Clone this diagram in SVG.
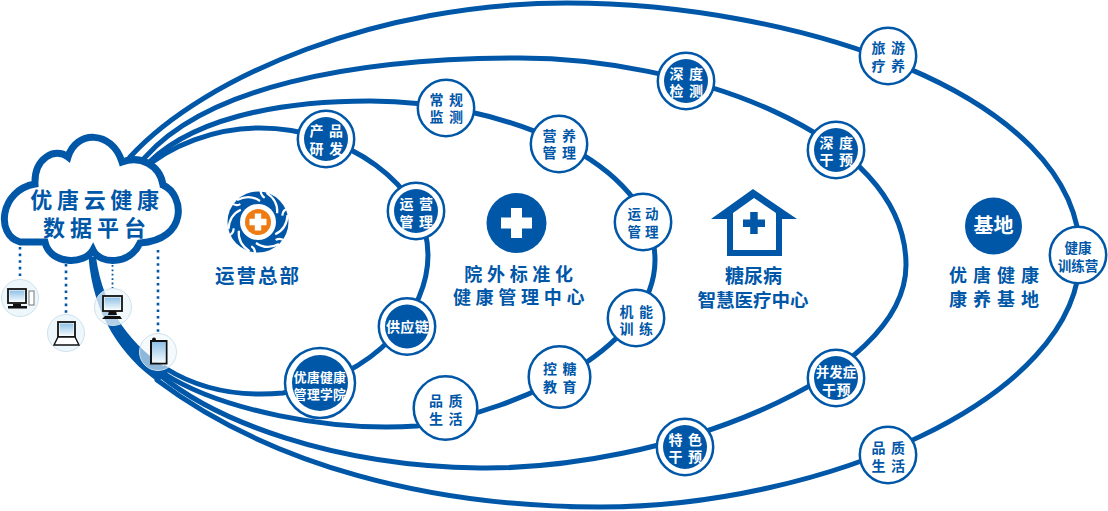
<svg xmlns="http://www.w3.org/2000/svg" xmlns:xlink="http://www.w3.org/1999/xlink" width="1108" height="511" viewBox="0 0 1108 511">
<style>
text{font-family:"Liberation Sans","Noto Sans CJK SC",sans-serif;font-weight:700;text-anchor:middle;dominant-baseline:central}
.b{fill:#0057a8}.w{fill:#fff}
.c{fill:none;stroke:#0057a8;stroke-width:5;stroke-linecap:round}
.d{fill:none;stroke:#0057a8;stroke-width:2.6;stroke-dasharray:2.6 4}
.d2{fill:none;stroke:#0057a8;stroke-width:1.8;stroke-dasharray:1.8 2.6}
.rw{fill:#fff;stroke:#0057a8;stroke-width:2.5}
.n{font-size:14px;letter-spacing:5.5px}
.m{font-size:18px;letter-spacing:4.7px}
.dv{fill:#eef7fc;stroke:#cfe2ec;stroke-width:1}
.k{fill:#fff;stroke:#111;stroke-width:1.8}
.s{fill:url(#scr)}
.sl{fill:none;stroke:#fff;stroke-width:2.2}
</style>
<defs>
<linearGradient id="scr" x1="0" y1="0" x2="0" y2="1"><stop offset="0" stop-color="#8fc0e6"/><stop offset="1" stop-color="#f2f9fd"/></linearGradient>
<path id="slit" d="M-21,-22 C-13,-26 -5,-26 2,-21"/>
<path id="notch" d="M-8,-32 C-8,-28 -6,-26 -2,-25"/>
</defs>
<g id="connectors">
<path class="c" d="M130,157 C205,75 380,3 567,3 C790,3 1080,92 1080,255 C1080,400 820,507 600,507 C430,507 270,465 157,380"/>
<path class="c" d="M135,170 C195,85 360,58 520,58 C680,58 906,130 906,265 C906,380 660,470 480,468 C330,466 215,420 160,375"/>
<path class="c" d="M140,172 C185,118 280,101 370,101 C500,101 655,160 655,260 C655,345 525,410 417,426 C330,432 220,410 163,373"/>
<path class="c" d="M140,172 C170,145 215,128 260,128 C345,128 428,185 428,255 C428,310 380,375 283,393 C240,397 200,390 165,368"/>
<path class="b" d="M88.500,257 C93,315 122,357 158,382 L170,370 C133,348 103,310 96,257Z"/>
</g>
<g id="cloud">
<path d="M35,184 C34,158 55,147 68,157 C76,130 112,130 122,162 C140,155 160,165 163,185 C185,195 188,240 140,243 C130,265 100,265 93,250 C85,265 50,265 45,242 L20,242 C-5,235 0,190 35,184Z" fill="#fff" stroke="#0057a8" stroke-width="7"/>
<text x="97" y="200" font-size="22" letter-spacing="4.7" class="b">优唐云健康</text>
<text x="97" y="228" font-size="22" letter-spacing="5" class="b">数据平台</text>
</g>
<g id="devices">
<path class="d" d="M20,247V278M66,264V313M158,250V332"/>
<path class="d2" d="M112.500,265V288"/>
<g id="device-1"><circle class="dv" cx="20" cy="298" r="18.500"/><rect class="k" x="8" y="289" width="18" height="14"/><rect class="s" x="9.500" y="290.500" width="15" height="11"/><path d="M13,304V306H8V308.500H27V306H21V304Z" fill="#111"/><rect x="29" y="291" width="5" height="14" fill="#fff" stroke="#777"/></g>
<g id="device-2"><circle class="dv" cx="66" cy="333" r="18.500"/><rect class="k" x="58" y="322" width="17" height="15"/><rect class="s" x="59.500" y="323.500" width="14" height="12"/><path d="M58,337H75L79,345H54Z" fill="#fff" stroke="#111" stroke-width="1.400"/></g>
<g id="device-3"><circle class="dv" cx="113" cy="307" r="18.500" fill-opacity=".75"/><rect class="k" x="103" y="296" width="19" height="15"/><rect class="s" x="104.500" y="297.500" width="16" height="12"/><path d="M109,311H116L117,315H108ZM105,316H120L122,319H102Z" fill="#111"/></g>
<g id="device-4"><circle class="dv" cx="158" cy="352" r="18.500" fill-opacity=".6"/><rect x="151" y="341" width="15.500" height="22.500" fill="none" stroke="#111" stroke-width="2"/><rect class="s" x="152" y="342" width="13.500" height="20.500"/><circle cx="154" cy="339.500" r="2" fill="#111"/></g>
</g>
<g id="hq">
<g transform="translate(258,222)"><circle r="30.500" fill="#0057a8"/><circle r="18" fill="#fff"/>
<use xlink:href="#slit" class="sl"/><use xlink:href="#slit" class="sl" transform="rotate(60)"/><use xlink:href="#slit" class="sl" transform="rotate(120)"/><use xlink:href="#slit" class="sl" transform="rotate(180)"/><use xlink:href="#slit" class="sl" transform="rotate(240)"/><use xlink:href="#slit" class="sl" transform="rotate(300)"/>
<use xlink:href="#notch" class="sl" transform="rotate(20)"/><use xlink:href="#notch" class="sl" transform="rotate(80)"/><use xlink:href="#notch" class="sl" transform="rotate(140)"/><use xlink:href="#notch" class="sl" transform="rotate(200)"/><use xlink:href="#notch" class="sl" transform="rotate(260)"/><use xlink:href="#notch" class="sl" transform="rotate(320)"/>
<circle r="13" fill="#ee7c12"/><path d="M-3.200,-8.500H3.200V-3.200H8.500V3.200H3.200V8.500H-3.200V3.200H-8.500V-3.200H-3.200Z" fill="#fff"/></g>
<text x="258" y="276" font-size="19.500" letter-spacing="2" class="b">运营总部</text>
</g>
<g id="center-hospital">
<circle class="b" cx="516.500" cy="223" r="30"/><rect class="w" x="501" y="217.500" width="31" height="11"/><rect class="w" x="511" y="208" width="11" height="30"/>
<text x="521" y="275" class="m b">院外标准化</text>
<text x="521" y="298" class="m b">健康管理中心</text>
</g>
<g id="center-diabetes">
<path class="b" fill-rule="evenodd" d="M753,189L797,219H782V256H727V219H711ZM754,198L733,213V250H776V213Z"/>
<rect class="b" x="743" y="219.500" width="22" height="7.500"/><rect class="b" x="750.200" y="212" width="7.500" height="22"/>
<text x="753.500" y="276" font-size="19" class="b">糖尿病</text>
<text x="753" y="300" font-size="18.500" class="b">智慧医疗中心</text>
</g>
<g id="base">
<circle class="b" cx="993.500" cy="226" r="28.500"/>
<text x="993.500" y="226" font-size="20" class="w">基地</text>
<text x="997" y="276" font-size="18" letter-spacing="6" class="b">优唐健康</text>
<text x="997" y="300" font-size="18" letter-spacing="6" class="b">康养基地</text>
</g>
<g id="n1"><circle class="rw" cx="326" cy="139" r="28.200"/><circle class="b" cx="326" cy="139" r="22"/><text x="329" y="131" class="n w">产品</text><text x="329" y="149" class="n w">研发</text></g>
<g id="n2"><circle class="rw" cx="446" cy="108" r="28.200"/><text x="449" y="100" class="n b">常规</text><text x="449" y="117" class="n b">监测</text></g>
<g id="n3"><circle class="rw" cx="559" cy="144" r="28.200"/><text x="562" y="135.500" class="n b">营养</text><text x="562" y="153" class="n b">管理</text></g>
<g id="n4"><circle class="rw" cx="416" cy="211" r="28.200"/><circle class="b" cx="416" cy="211" r="22"/><text x="419" y="204" class="n w">运营</text><text x="419" y="222" class="n w">管理</text></g>
<g id="n5"><circle class="rw" cx="643" cy="222" r="28.200"/><text x="645" y="214" font-size="13.500" letter-spacing="4" class="b">运动</text><text x="645" y="232" font-size="13.500" letter-spacing="4" class="b">管理</text></g>
<g id="n6"><circle class="rw" cx="407" cy="326.500" r="28.200"/><circle class="b" cx="407" cy="326.500" r="22"/><text x="407.500" y="327" font-size="14" letter-spacing=".3" class="w">供应链</text></g>
<g id="n7"><circle class="rw" cx="320" cy="383" r="35"/><circle class="b" cx="320" cy="383" r="28"/><text x="320" y="377" font-size="12.800" letter-spacing=".3" class="w">优唐健康</text><text x="320" y="394" font-size="12.800" letter-spacing=".3" class="w">管理学院</text></g>
<g id="n8"><circle class="rw" cx="445.500" cy="408" r="31.800"/><text x="448.500" y="401" class="n b">品质</text><text x="448.500" y="418.500" class="n b">生活</text></g>
<g id="n9"><circle class="rw" cx="559.500" cy="377" r="30.800"/><text x="562.500" y="369" class="n b">控糖</text><text x="562.500" y="387" class="n b">教育</text></g>
<g id="n10"><circle class="rw" cx="636" cy="318" r="28.200"/><text x="639" y="311.500" class="n b">机能</text><text x="639" y="329" class="n b">训练</text></g>
<g id="n11"><circle class="rw" cx="686" cy="81" r="28.200"/><circle class="b" cx="686" cy="81" r="22"/><text x="689" y="74" class="n w">深度</text><text x="689" y="91" class="n w">检测</text></g>
<g id="n12"><circle class="rw" cx="836" cy="150" r="28.200"/><circle class="b" cx="836" cy="150" r="22"/><text x="839" y="143" class="n w">深度</text><text x="839" y="160" class="n w">干预</text></g>
<g id="n13"><circle class="rw" cx="888" cy="56" r="28.200"/><text x="891" y="48" class="n b">旅游</text><text x="891" y="66" class="n b">疗养</text></g>
<g id="n14"><circle class="rw" cx="1078" cy="255" r="28.200"/><text x="1078" y="248" font-size="13.500" class="b">健康</text><text x="1078" y="266" font-size="13.500" class="b">训练营</text></g>
<g id="n15"><circle class="rw" cx="836" cy="378" r="28.200"/><circle class="b" cx="836" cy="378" r="22"/><text x="836" y="372.500" font-size="13.500" class="w">并发症</text><text x="836.500" y="390" font-size="14" letter-spacing=".5" class="w">干预</text></g>
<g id="n16"><circle class="rw" cx="685" cy="447" r="28.200"/><circle class="b" cx="685" cy="447" r="22"/><text x="688" y="440" class="n w">特色</text><text x="688" y="457" class="n w">干预</text></g>
<g id="n17"><circle class="rw" cx="888" cy="455" r="28.200"/><text x="891" y="448" class="n b">品质</text><text x="891" y="466" class="n b">生活</text></g>
</svg>
